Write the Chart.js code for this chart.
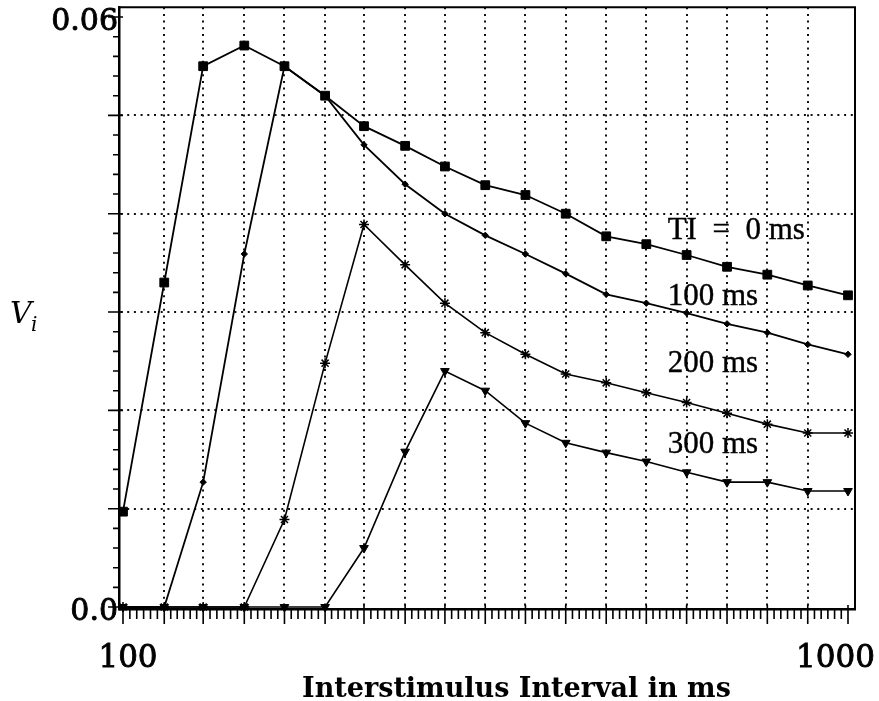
<!DOCTYPE html>
<html lang="en">
<head>
  <meta charset="UTF-8">
  <title>Interstimulus Interval</title>
  <script src="https://cdn.jsdelivr.net/npm/chart.js"></script>
  <style>
    body { margin: 0; background: #fff; }
    #wrap { width: 879px; height: 701px; position: relative; }
  </style>
</head>
<body>
  <div id="wrap"><canvas id="chart"></canvas></div>

  <script>
    // interstimulus intervals in ms (log spaced)
    const isi = [100, 114, 129, 147, 167, 190, 215, 245, 278, 316, 359, 408, 464, 527, 599, 681, 774, 880, 1000];

    // V_i for each TI
    const vTI0   = [0.0097, 0.0330, 0.0550, 0.0571, 0.0550, 0.0520, 0.0489, 0.0469, 0.0448, 0.0429, 0.0419, 0.0400, 0.0377, 0.0369, 0.0358, 0.0346, 0.0338, 0.0327, 0.0317];
    const vTI100 = [0, 0, 0.0127, 0.0359, 0.0550, 0.0520, 0.0470, 0.0430, 0.0400, 0.0378, 0.0359, 0.0339, 0.0318, 0.0309, 0.0299, 0.0288, 0.0279, 0.0267, 0.0257];
    const vTI200 = [0, 0, 0, 0, 0.0089, 0.0248, 0.0389, 0.0348, 0.0309, 0.0279, 0.0257, 0.0237, 0.0228, 0.0218, 0.0208, 0.0197, 0.0186, 0.0177, 0.0177];
    const vTI300 = [0, 0, 0, 0, 0, 0, 0.0060, 0.0158, 0.0240, 0.0220, 0.0187, 0.0167, 0.0157, 0.0148, 0.0137, 0.0127, 0.0127, 0.0118, 0.0118];

    const seriesNames = ['TI\u2002=\u20020 ms', '100 ms', '200 ms', '300 ms'];

    const xTickValues = [100, 1000];
    const xTickLabels = ['100', '1000'];
    const yTickValues = [0, 0.01, 0.02, 0.03, 0.04, 0.05, 0.06];
    const yTickLabels = ['0.0', '', '', '', '', '', '0.06'];

    // curve names are placed in data coordinates
    const nameX = 564;
    const nameY = [0.0383, 0.0315, 0.0247, 0.0165];

    const toPoints = vals => isi.map((x, i) => ({ x: x, y: vals[i] }));

    const makeSet = (label, vals, style, radius, extra) => Object.assign({
      label: label,
      data: toPoints(vals),
      showLine: true,
      borderColor: '#000',
      backgroundColor: '#000',
      borderWidth: 1.8,
      pointStyle: style,
      pointRadius: radius,
      pointBorderWidth: 1,
      pointBackgroundColor: '#000',
      pointBorderColor: '#000',
      clip: false
    }, extra || {});

    // ticks, frame and all the text that is not a y tick label
    const decor = {
      id: 'decor',
      afterDraw(chart) {
        const { ctx, chartArea: a, scales: { x, y } } = chart;
        ctx.save();
        ctx.strokeStyle = '#000';

        ctx.lineWidth = 2;
        ctx.beginPath();
        ctx.moveTo(a.left, a.top);
        ctx.lineTo(a.right, a.top);
        ctx.lineTo(a.right, a.bottom);
        ctx.stroke();

        ctx.lineWidth = 1.6;
        ctx.beginPath();
        const px = isi.map(v => x.getPixelForValue(v));
        px.forEach((p, i) => {
          ctx.moveTo(p, a.bottom - 4);
          ctx.lineTo(p, a.bottom + 15);
          if (i < px.length - 1) {
            for (let k = 1; k < 6; k++) {
              const m = p + (px[i + 1] - p) * k / 6;
              ctx.moveTo(m, a.bottom);
              ctx.lineTo(m, a.bottom + 10);
            }
          }
        });
        const py = yTickValues.map(v => y.getPixelForValue(v));
        py.forEach((p, i) => {
          ctx.moveTo(a.left - 11, p);
          ctx.lineTo(a.left + 4, p);
          if (i < py.length - 1) {
            for (let k = 1; k < 5; k++) {
              const m = p + (py[i + 1] - p) * k / 5;
              ctx.moveTo(a.left - 6, m);
              ctx.lineTo(a.left, m);
            }
          }
        });
        ctx.stroke();

        ctx.fillStyle = '#000';
        ctx.textBaseline = 'alphabetic';
        ctx.textAlign = 'center';
        ctx.font = '31px "DejaVu Serif"';
        ctx.lineWidth = 0.9;
        xTickValues.forEach((v, i) => {
          const w = ctx.measureText(xTickLabels[i]).width;
          const cx = Math.min(x.getPixelForValue(v) + 5, chart.width - 4 - w / 2);
          ctx.fillText(xTickLabels[i], cx, a.bottom + 58);
          ctx.strokeText(xTickLabels[i], cx, a.bottom + 58);
        });

        ctx.font = 'bold 27px "DejaVu Serif"';
        ctx.fillText('Interstimulus Interval in ms', a.left + (a.right - a.left) * 0.54, chart.height - 4);

        const mid = (a.top + a.bottom) / 2;
        ctx.textAlign = 'left';
        ctx.font = 'italic 30px "DejaVu Serif"';
        ctx.fillText('V', 10, mid + 15);
        ctx.font = 'italic 20px "DejaVu Serif"';
        ctx.fillText('i', 31, mid + 23);

        ctx.font = '31px "Liberation Serif"';
        ctx.textBaseline = 'middle';
        ctx.lineWidth = 0.4;
        seriesNames.forEach((t, i) => {
          const lx = x.getPixelForValue(nameX);
          const ly = y.getPixelForValue(nameY[i]);
          ctx.fillText(t, lx, ly);
          ctx.strokeText(t, lx, ly);
        });
        ctx.restore();
      }
    };

    const dotted = (ctx, last) => (ctx.index === 0 || ctx.index === last) ? 'rgba(0,0,0,0)' : '#111';

    new Chart(document.getElementById('chart'), {
      type: 'scatter',
      data: {
        datasets: [
          makeSet(seriesNames[0], vTI0, 'rect', 6.2),
          makeSet(seriesNames[1], vTI100, 'rectRot', 3.2),
          makeSet(seriesNames[2], vTI200, 'star', 5, { pointBorderWidth: 1.5, borderWidth: 1.6 }),
          makeSet(seriesNames[3], vTI300, 'triangle', 5, { pointRotation: 180, borderWidth: 1.6 })
        ]
      },
      options: {
        responsive: true,
        maintainAspectRatio: false,
        animation: false,
        layout: { padding: { top: 7, right: 24, left: 0, bottom: 0 } },
        plugins: { legend: { display: false }, tooltip: { enabled: false } },
        scales: {
          x: {
            type: 'logarithmic',
            min: 98.74,
            max: 1022.5,
            afterBuildTicks: s => { s.ticks = isi.map(v => ({ value: v })); },
            afterFit: s => { s.height = 92; s.paddingLeft = 0; s.paddingRight = 0; },
            ticks: { display: false },
            grid: { color: c => dotted(c, isi.length - 1), lineWidth: 2, drawTicks: false },
            border: { display: true, color: '#000', width: 2.5, dash: [2, 4.7] }
          },
          y: {
            min: -0.0002,
            max: 0.061,
            afterBuildTicks: s => { s.ticks = yTickValues.map(v => ({ value: v })); },
            afterFit: s => { s.width = 119; s.paddingTop = 0; s.paddingBottom = 0; },
            ticks: {
              callback: (v, i) => yTickLabels[i],
              color: '#000',
              padding: 1,
              labelOffset: 5,
              textStrokeColor: '#000',
              textStrokeWidth: 0.9,
              font: { family: 'DejaVu Serif', size: 30 }
            },
            grid: { color: c => dotted(c, yTickValues.length - 1), lineWidth: 2, drawTicks: false },
            border: { display: true, color: '#000', width: 2.5, dash: [2, 4.7] }
          }
        }
      },
      plugins: [decor]
    });
  </script>
</body>
</html>
